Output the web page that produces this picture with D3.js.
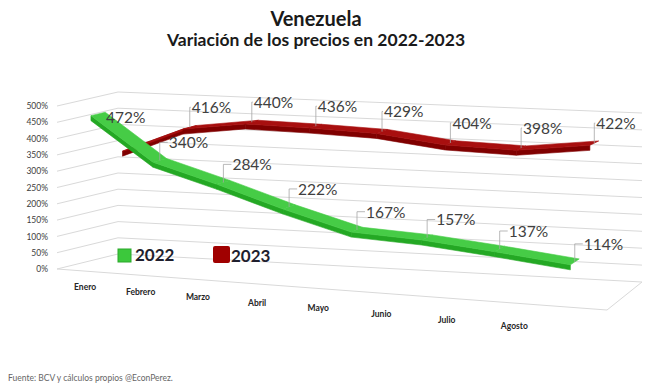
<!DOCTYPE html>
<html>
<head>
<meta charset="utf-8">
<script src="https://cdn.jsdelivr.net/npm/d3@7"></script>
<style>
  body { margin: 0; background: #fff; }
  svg { display: block; font-family: "Lato", "Liberation Sans", sans-serif; }
</style>
</head>
<body>
<div id="chart"></div>
<script>
// Data
const months = ["Enero", "Febrero", "Marzo", "Abril", "Mayo", "Junio", "Julio", "Agosto"];
const values2022 = [472, 340, 284, 222, 167, 157, 137, 114];
const values2023 = [340, 416, 440, 436, 429, 404, 398, 422];   // Enero 2023 has no label in the original
const yTicks = [0, 50, 100, 150, 200, 250, 300, 350, 400, 450, 500];

const width = 650, height = 390;

const svg = d3.select("#chart").append("svg")
    .attr("width", width)
    .attr("height", height);

// 3D box corners (floor point + wall height), fake perspective
const FL = {x: 57, y: 269, h: 163}, FR = {x: 607, y: 310, h: 180};
const BL = {x: 118, y: 254, h: 162}, BR = {x: 642, y: 282, h: 169};
const warpC = 0.877;

const xBand = d3.scaleBand().domain(months).range([0, 1]);
const yScale = d3.scaleLinear().domain([0, 500]).range([0, 1]);

const warp = u => warpC * u / (1 + (warpC - 1) * u);
const lerp = (a, b, t) => ({x: a.x + (b.x - a.x) * t, y: a.y + (b.y - a.y) * t, h: a.h + (b.h - a.h) * t});

// u: 0..1 along categories, val: value, v: depth 0 (front) .. 1 (back)
function proj(u, val, v) {
    const s = warp(u);
    const p = lerp(lerp(FL, FR, s), lerp(BL, BR, s), v);
    return [p.x, p.y - p.h * yScale(val)];
}
const uOf = m => xBand(m) + xBand.bandwidth() / 2;

// Gridlines: left wall + back wall
const grid = svg.append("g");
yTicks.forEach(t => {
    const pts = [proj(0, t, 0), proj(0, t, 1), proj(1, t, 1)];
    grid.append("path")
        .attr("d", d3.line()(pts))
        .attr("fill", "none")
        .attr("stroke", "#d9d9d9")
        .attr("stroke-width", 1);
    grid.append("text")
        .attr("x", pts[0][0] - 9)
        .attr("y", pts[0][1] + 1)
        .attr("text-anchor", "end")
        .attr("dominant-baseline", "middle")
        .attr("font-size", 8.5)
        .attr("fill", "#404040")
        .text(d3.format(".0%")(t / 100));
});

// floor front edge
grid.append("path")
    .attr("d", d3.line()([proj(0, 0, 0), proj(1, 0, 0), proj(1, 0, 1)]))
    .attr("fill", "none")
    .attr("stroke", "#d9d9d9");

// Month labels along the front
const labL = {x: 58, y: 285.5, h: 0}, labR = {x: 549, y: 330, h: 0};
svg.append("g").selectAll("text")
    .data(months)
    .join("text")
    .attr("x", d => lerp(labL, labR, warp(uOf(d))).x)
    .attr("y", d => lerp(labL, labR, warp(uOf(d))).y)
    .attr("text-anchor", "middle")
    .attr("dominant-baseline", "middle")
    .attr("font-size", 8.5)
    .attr("font-weight", "bold")
    .attr("fill", "#262626")
    .text(d => d);

// Ribbon for one series
function drawRibbon(values, depth, topColor, sideColor) {
    const g = svg.append("g");
    const half = 0.12, thick = 5;
    const line = d3.line();
    for (let i = 0; i < values.length - 1; i++) {
        const u0 = uOf(months[i]), u1 = uOf(months[i + 1]);
        const f0 = proj(u0, values[i], depth - half), f1 = proj(u1, values[i + 1], depth - half);
        const b0 = proj(u0, values[i], depth + half), b1 = proj(u1, values[i + 1], depth + half);
        g.append("path")
            .attr("d", line([f0, f1, [f1[0], f1[1] + thick], [f0[0], f0[1] + thick]]) + "Z")
            .attr("fill", sideColor).attr("stroke", sideColor).attr("stroke-width", 0.6);
        g.append("path")
            .attr("d", line([f0, f1, b1, b0]) + "Z")
            .attr("fill", topColor).attr("stroke", topColor).attr("stroke-width", 0.6);
    }
    return g;
}

drawRibbon(values2023, 0.71, "#a80f0f", "#800000");
drawRibbon(values2022, 0.18, "#46cc46", "#24a824");

// Data labels with leader lines
function drawLabels(values, depth, dx, dy, skipFirst) {
    const g = svg.append("g");
    values.forEach((val, i) => {
        if (skipFirst && i === 0) return;
        const p = proj(uOf(months[i]), val, depth);
        let lx = p[0] + dx, ly = p[1] + dy;
        if (!skipFirst && i === 0) { lx = p[0] + 8; ly = p[1] + 9; }
        if (ly < p[1] - 6) {
            g.append("path")
                .attr("d", `M${p[0]},${p[1]}V${ly - 6}H${lx - 1}`)
                .attr("fill", "none")
                .attr("stroke", "#a6a6a6")
                .attr("stroke-width", 0.8);
        }
        g.append("text")
            .attr("x", lx)
            .attr("y", ly)
            .attr("font-size", 15.5)
            .attr("fill", "#404040")
            .text(val + "%");
    });
}
drawLabels(values2023, 0.71, 2, -14, true);
drawLabels(values2022, 0.18, 9, -12, false);

// Legend
const legend = svg.append("g").attr("font-weight", "bold").attr("font-size", 17).attr("fill", "#1f1f2e");
legend.append("rect").attr("x", 118).attr("y", 249).attr("width", 13).attr("height", 13)
    .attr("fill", "#3cc83c").attr("stroke", "#2aa82a");
legend.append("text").attr("x", 135).attr("y", 261).text("2022");
legend.append("rect").attr("x", 213).attr("y", 246).attr("width", 17).attr("height", 17).attr("rx", 2)
    .attr("fill", "#a00000");
legend.append("text").attr("x", 231).attr("y", 262).text("2023");

// Titles
svg.append("text")
    .attr("x", 316).attr("y", 26)
    .attr("text-anchor", "middle")
    .attr("font-size", 20).attr("font-weight", "bold").attr("fill", "#1a1a1a")
    .text("Venezuela");
svg.append("text")
    .attr("x", 316).attr("y", 46)
    .attr("text-anchor", "middle")
    .attr("font-size", 17.5).attr("font-weight", "bold").attr("fill", "#1a1a1a")
    .text("Variación de los precios en 2022-2023");

// Source
svg.append("text")
    .attr("x", 8).attr("y", 381)
    .attr("font-size", 8.5)
    .attr("fill", "#666")
    .text("Fuente: BCV y cálculos propios @EconPerez.");
</script>
</body>
</html>
